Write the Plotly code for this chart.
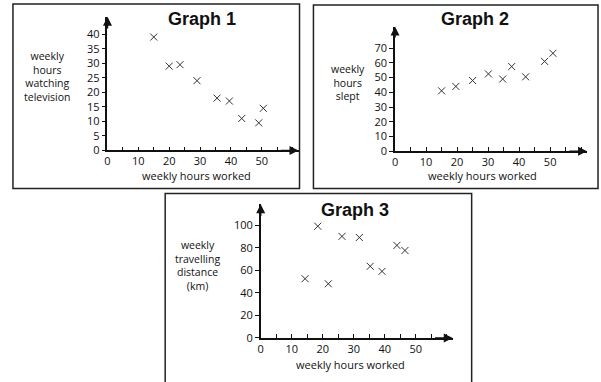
import plotly.graph_objects as go

W, H = 601, 382

# ---------------- data ----------------
titles = ["Graph 1", "Graph 2", "Graph 3"]
x_label = "weekly hours worked"
y_labels = [["weekly", "hours", "watching", "television"],
            ["weekly", "hours", "slept"],
            ["weekly", "travelling", "distance", "(km)"]]

g1_hours_worked = [15, 20, 23.5, 29, 35.5, 39.5, 43.5, 49, 50.5]
g1_hours_tv = [39, 29, 29.5, 24, 18, 17, 11, 9.5, 14.5]

g2_hours_worked = [15, 19.6, 25, 30.1, 34.7, 37.6, 42.1, 48.2, 50.9]
g2_hours_slept = [41, 44, 48, 52.5, 49, 57.5, 50.5, 61, 66.5]

g3_hours_worked = [14.3, 18.4, 21.8, 26.2, 31.8, 35.3, 39.1, 43.9, 46.5]
g3_distance = [52.5, 99, 48, 90, 89, 63.5, 59, 82, 77.5]

x_ticks = [0, 10, 20, 30, 40, 50]
g1_y_ticks = [0, 5, 10, 15, 20, 25, 30, 35, 40]
g2_y_ticks = [0, 10, 20, 30, 40, 50, 60, 70]
g3_y_ticks = [0, 20, 40, 60, 80, 100]

# ---------------- layout helpers ----------------
def px_x(p):
    return p / W

def px_y(p):
    return 1 - p / H

TICK_FONT = dict(family="Open Sans, DejaVu Sans", size=11, color="#111")
LABEL_FONT = dict(family="Open Sans, DejaVu Sans", size=11, color="#111")
YLABEL_FONT = dict(family="Open Sans, DejaVu Sans", size=10.5, color="#111")
TITLE_FONT = dict(family="Liberation Sans Narrow, Liberation Sans, Arial", size=18, color="#111")
INK = "#111"

# pixel geometry of each panel
panels = [
    dict(x0=105, xtip=297, y0=153.3, ytip=17, xr=61.9, yr=46.0, yt=g1_y_ticks,
         box=(10, 4, 298, 192), title=(200, 19), xl=(194, 179), yl=(45, 77.5)),
    dict(x0=394, xtip=587, y0=154, ytip=27, xr=61.9, yr=84.7, yt=g2_y_ticks,
         box=(312, 5, 598, 192), title=(474, 19), xl=(482, 179), yl=(347, 84.5)),
    dict(x0=259, xtip=452, y0=344.3, ytip=208, xr=61.9, yr=118.5, yt=g3_y_ticks,
         box=(163, 197, 471, 390), title=(354, 214), xl=(349, 371), yl=(195, 270)),
]
series = [(g1_hours_worked, g1_hours_tv),
          (g2_hours_worked, g2_hours_slept),
          (g3_hours_worked, g3_distance)]

fig = go.Figure()
shapes, annotations = [], []
layout_axes = {}

for i, (p, (xs, ys)) in enumerate(zip(panels, series), start=1):
    sfx = "" if i == 1 else str(i)
    xa, ya = "x" + sfx, "y" + sfx
    fig.add_trace(go.Scatter(
        x=xs, y=ys, mode="markers", xaxis=xa, yaxis=ya,
        marker=dict(symbol="x-thin", size=7, line=dict(width=1, color="#333"), color="#333"),
        showlegend=False, hoverinfo="x+y", cliponaxis=False,
    ))
    layout_axes["xaxis" + sfx] = dict(
        domain=[px_x(p["x0"]), px_x(p["xtip"])], range=[0, p["xr"]], anchor=ya,
        showline=True, linecolor=INK, linewidth=1.5, showgrid=False, zeroline=False,
        tickvals=x_ticks, ticks="inside", ticklen=4, tickwidth=1, tickcolor=INK,
        minor=dict(dtick=5, tick0=0, ticks="inside", ticklen=4, tickwidth=1, tickcolor=INK),
        tickfont=TICK_FONT, fixedrange=True,
    )
    layout_axes["yaxis" + sfx] = dict(
        domain=[px_y(p["y0"]), px_y(p["ytip"])], range=[0, p["yr"]], anchor=xa,
        showline=True, linecolor=INK, linewidth=1.5, showgrid=False, zeroline=False,
        tickvals=p["yt"], ticks="outside", ticklen=4, tickwidth=1, tickcolor=INK,
        tickfont=TICK_FONT, fixedrange=True,
    )
    # arrow heads
    annotations.append(dict(x=p["xr"], y=0, ax=p["xr"] * 0.9, ay=0, xref=xa, yref=ya,
                            axref=xa, ayref=ya, text="", showarrow=True, arrowhead=2,
                            arrowsize=1.2, arrowwidth=1.5, arrowcolor=INK, standoff=0))
    annotations.append(dict(x=0, y=p["yr"], ax=0, ay=p["yr"] * 0.9, xref=xa, yref=ya,
                            axref=xa, ayref=ya, text="", showarrow=True, arrowhead=2,
                            arrowsize=1.2, arrowwidth=1.5, arrowcolor=INK, standoff=0))
    # title and axis labels
    annotations.append(dict(x=px_x(p["title"][0]), y=px_y(p["title"][1]), xref="paper",
                            yref="paper", text="<b>%s</b>" % titles[i - 1], showarrow=False,
                            font=TITLE_FONT, xanchor="center", yanchor="middle"))
    annotations.append(dict(x=px_x(p["xl"][0]), y=px_y(p["xl"][1]), xref="paper",
                            yref="paper", text=x_label, showarrow=False,
                            font=LABEL_FONT, xanchor="center", yanchor="middle"))
    annotations.append(dict(x=px_x(p["yl"][0]), y=px_y(p["yl"][1]), xref="paper",
                            yref="paper", text="<br>".join(y_labels[i - 1]), showarrow=False,
                            font=YLABEL_FONT, xanchor="center", yanchor="middle", align="center"))
    bx0, by0, bx1, by1 = p["box"]
    shapes.append(dict(type="rect", xref="paper", yref="paper",
                       x0=px_x(bx0), x1=px_x(bx1), y0=px_y(by1), y1=px_y(by0),
                       line=dict(color="#222", width=1.5), layer="below"))

fig.update_layout(
    width=W, height=H, margin=dict(l=0, r=0, t=0, b=0),
    paper_bgcolor="white", plot_bgcolor="white",
    shapes=shapes, annotations=annotations, **layout_axes,
)

fig.write_html("out.html", config={"displayModeBar": False},
               post_script="document.body.style.margin='0';document.body.style.padding='0';document.body.style.overflow='hidden';")
